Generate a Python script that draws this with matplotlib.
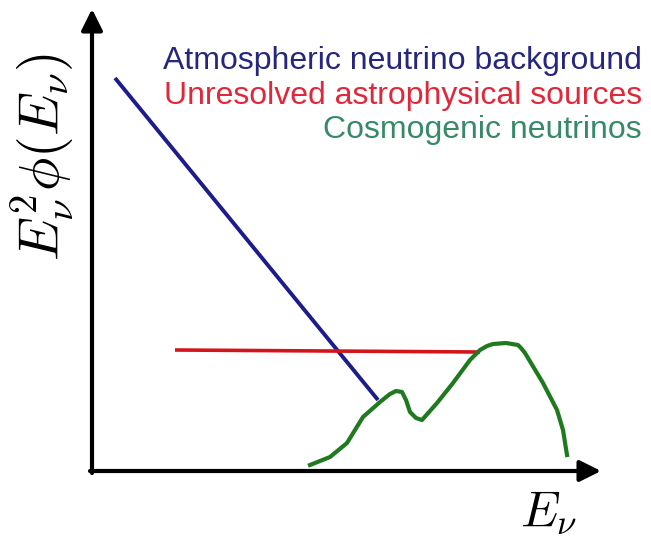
import matplotlib
matplotlib.use("Agg")
import matplotlib.pyplot as plt

plt.rcParams['mathtext.fontset'] = 'cm'
plt.rcParams['font.family'] = ['Liberation Sans', 'DejaVu Sans']

# Schematic data (arbitrary units: energy on x, E^2 phi on y)
atm_x = [23, 286]
atm_y = [392, 70]

astro_x = [83, 388]
astro_y = [120, 118]

cosmo_x = [218, 238, 255, 271, 288, 298, 304, 310, 314, 318, 324, 330, 345, 361, 378, 388, 395, 401, 414, 426, 429, 433, 451, 465, 471, 475]
cosmo_y = [5, 13, 27, 53, 68, 76, 79, 78, 70, 58, 52, 50, 67, 87, 110, 120, 124, 126, 127, 125, 122, 117, 87, 60, 40, 15]

labels = ["Atmospheric neutrino background",
          "Unresolved astrophysical sources",
          "Cosmogenic neutrinos"]
label_colors = ["#26267e", "#e0283a", "#378a68"]

fig = plt.figure(figsize=(6.51, 5.41), dpi=100)
ax = fig.add_axes([0, 0, 1, 1])
ax.set_xlim(-92, 559)
ax.set_ylim(-71, 470)
ax.axis('off')

# axes arrows
ax.annotate('', xy=(0, 461), xytext=(0, -3),
            arrowprops=dict(arrowstyle='-|>', lw=3, color='black', mutation_scale=32,
                            shrinkA=0, shrinkB=0))
ax.annotate('', xy=(509, -1), xytext=(-2, -1),
            arrowprops=dict(arrowstyle='-|>', lw=3, color='black', mutation_scale=32,
                            shrinkA=0, shrinkB=0))

ax.plot(atm_x, atm_y, color='#1c1c8a', lw=2.8, solid_capstyle='butt')
ax.plot(astro_x, astro_y, color='#d4141c', lw=2.6, solid_capstyle='butt')
ax.plot(cosmo_x, cosmo_y, color='#1f7a1f', lw=3.0, solid_joinstyle='round')

ys = [409, 374, 340]
for t, c, y in zip(labels, label_colors, ys):
    ax.text(550, y, t, color=c, fontsize=23, ha='right', va='center')

ax.text(-49, 313, r'$E_\nu^2\phi(E_\nu)$', fontsize=40, rotation=90,
        ha='center', va='center')
ax.text(457, -43, r'$E_\nu$', fontsize=36, ha='center', va='center')

fig.savefig('out.png', dpi=100)
